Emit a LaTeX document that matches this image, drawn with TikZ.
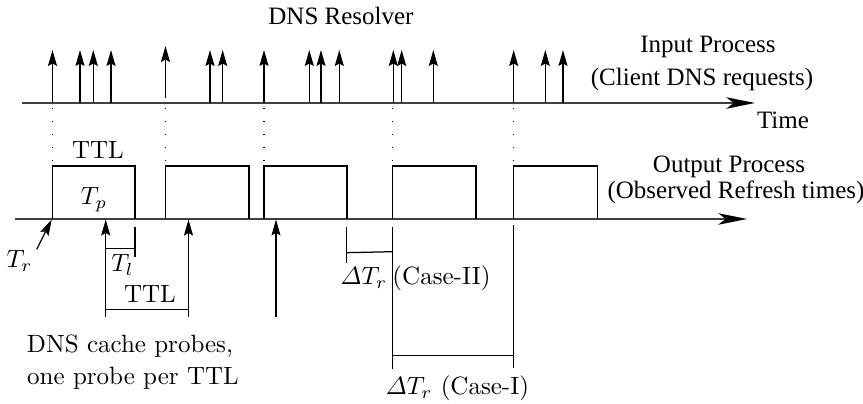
\documentclass[tikz,border=0pt]{standalone}
\usepackage{amsmath}
\usepackage{fontspec}
\newfontfamily\figfont{Liberation Serif}
\usetikzlibrary{arrows.meta}

\tikzset{
  axis/.style={line width=0.75pt, black!75, -{Stealth[length=11.5pt, width=4.6pt, inset=3pt, color=black]}},
  req/.style={line width=0.5pt, -{Stealth[length=6.4pt, width=3.6pt, inset=1pt]}},
  guide/.style={line width=0.6pt, dash pattern=on 0.5pt off 4.7pt, dash phase=3.2pt},
  pulse/.style={line width=0.5pt},
  tick/.style={line width=0.5pt},
  lbl/.style={anchor=base, inner sep=0pt},
  tlbl/.style={lbl, font=\figfont}
}

\begin{document}
\begin{tikzpicture}[x=0.4pt, y=-0.4pt]
\useasboundingbox (0, 0) rectangle (863, 404);

\coordinate (inStart) at (22, 103);
\coordinate (inEnd) at (755, 103);
\coordinate (outStart) at (15, 219);
\coordinate (outEnd) at (747, 219);

\node[tlbl] (resolver) at (341, 25) {DNS Resolver};
\node[tlbl] (inproc) at (708, 53) {Input Process};
\node[tlbl] (inclient) at (702, 86) {(Client DNS requests)};
\node[tlbl] (time) at (783, 129) {Time};
\node[tlbl] (outproc) at (729, 173) {Output Process};
\node[tlbl] (outrefresh) at (736, 199) {(Observed Refresh times)};

\draw[axis] (inStart) -- (inEnd);
\draw[axis] (outStart) -- (outEnd);

\draw[req] (52.5, 103) -- (52.5, 50);
\draw[req] (80, 103) -- (80, 50);
\draw[req] (93.3, 103) -- (93.3, 50);
\draw[req] (111, 103) -- (111, 50);
\draw[req] (165.5, 98) -- (165.5, 46);
\draw[req] (210, 103) -- (210, 50);
\draw[req] (222.7, 103) -- (222.7, 50);
\draw[req] (264, 103) -- (264, 50);
\draw[req] (309.3, 103) -- (309.3, 50);
\draw[req] (321, 103) -- (321, 50);
\draw[req] (339.3, 103) -- (339.3, 50);
\draw[req] (393.3, 103) -- (393.3, 50);
\draw[req] (401.7, 103) -- (401.7, 50);
\draw[req] (433.3, 103) -- (433.3, 50);
\draw[req] (513.7, 103) -- (513.7, 50);
\draw[req] (545.3, 103) -- (545.3, 50);
\draw[req] (563, 103) -- (563, 50);

\draw[guide] (52.5, 103) -- (52.5, 166);
\draw[guide] (165.5, 103) -- (165.5, 166);
\draw[guide] (264, 103) -- (264, 166);
\draw[guide] (392.7, 103) -- (392.7, 166);
\draw[guide] (513.5, 103) -- (513.5, 166);

\draw[pulse] (52.5, 219) -- (52.5, 166) -- (135, 166) -- (135, 219);
\draw[pulse] (165.5, 219) -- (165.5, 166) -- (249, 166) -- (249, 219);
\draw[pulse] (264, 219) -- (264, 166) -- (347, 166) -- (347, 219);
\draw[pulse] (392.7, 219) -- (392.7, 166) -- (476, 166) -- (476, 219);
\draw[pulse] (513.5, 219) -- (513.5, 166) -- (597.5, 166) -- (597.5, 219);

\node[lbl] (ttltop) at (98, 159) {TTL};
\node[lbl] (tp) at (94, 205) {$T_p$};
\node[lbl] (tr) at (19.5, 268) {$T_r$};
\draw[req] (36.7, 249.3) -- (51.7, 219.5);

\draw[req] (105.7, 317) -- (105.7, 219.5);
\draw[req] (188.5, 317) -- (188.5, 219.5);
\draw[req] (276, 317) -- (276, 219.5);

\draw[tick] (135, 227) -- (135, 257);
\draw[tick] (105.7, 248.7) -- (135, 248.7);
\node[lbl] (tl) at (122.5, 272) {$T_l$};
\draw[tick] (105.7, 309.3) -- (188.5, 309.3);
\node[lbl] (ttlbot) at (150, 303) {TTL};

\node[lbl] (probes) at (130, 353) {DNS cache probes,};
\node[lbl] (perttl) at (133, 385) {one probe per TTL};

\draw[tick] (346.7, 227) -- (346.7, 263);
\draw[tick] (346.7, 252.7) -- (392.7, 251.7);
\draw[tick] (392.7, 227) -- (392.7, 369);
\draw[tick] (513.5, 225) -- (513.5, 368);
\draw[tick] (392.7, 355.7) -- (513.5, 355.7);
\node[lbl] (dtr) at (364, 285) {$\varDelta T_r$};
\node[lbl] (casetwo) at (441.5, 285) {(Case-II)};
\node[lbl] (caseone) at (457.5, 395) {$\varDelta T_r$ (Case-I)};

\end{tikzpicture}
\end{document}
